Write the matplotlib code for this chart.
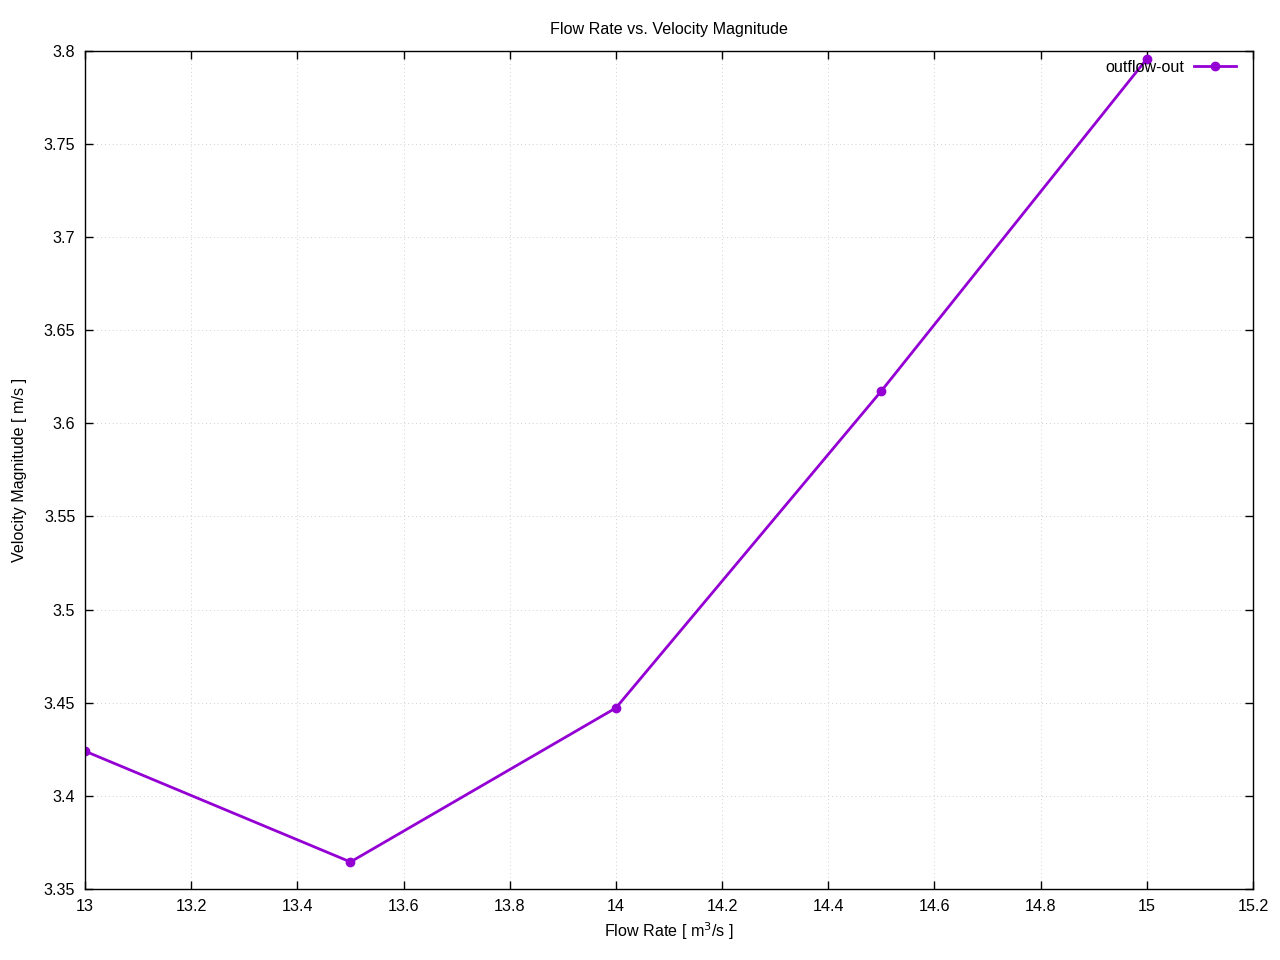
import matplotlib
matplotlib.use('Agg')
import matplotlib.pyplot as plt

plt.rcParams['font.family'] = ['Liberation Sans', 'DejaVu Sans']

# data
flow_rate = [13.0, 13.5, 14.0, 14.5, 15.0]
velocity = [3.424, 3.3645, 3.4472, 3.6174, 3.7957]
x_ticks = [13, 13.2, 13.4, 13.6, 13.8, 14, 14.2, 14.4, 14.6, 14.8, 15, 15.2]
x_labels = ['13', '13.2', '13.4', '13.6', '13.8', '14', '14.2', '14.4', '14.6', '14.8', '15', '15.2']
y_ticks = [3.35, 3.4, 3.45, 3.5, 3.55, 3.6, 3.65, 3.7, 3.75, 3.8]
y_labels = ['3.35', '3.4', '3.45', '3.5', '3.55', '3.6', '3.65', '3.7', '3.75', '3.8']

fs = 11.6

fig = plt.figure(figsize=(12.8, 9.6), dpi=100)
ax = fig.add_axes([0.0664, 0.074, 0.9125, 0.873])

ax.plot(flow_rate, velocity, color='#9400D3', linewidth=2.0, marker='o',
        markersize=6, label='outflow-out')

ax.set_xlim(13, 15.2)
ax.set_ylim(3.35, 3.8)
ax.set_xticks(x_ticks)
ax.set_xticklabels(x_labels)
ax.set_yticks(y_ticks)
ax.set_yticklabels(y_labels)
ax.tick_params(direction='in', top=True, right=True, length=6, width=1,
               labelsize=fs, pad=7)
for s in ax.spines.values():
    s.set_linewidth(1.0)

ax.grid(True, color='#d0d0d0', linestyle=(0, (1, 3)), linewidth=0.7)

ax.set_title('Flow Rate vs. Velocity Magnitude', fontsize=fs, pad=12)
ax.set_xlabel('Flow Rate [ m$^3$/s ]', fontsize=fs, labelpad=5)
ax.set_ylabel('Velocity Magnitude [ m/s ]', fontsize=fs, labelpad=12)

ax.legend(loc='upper right', bbox_to_anchor=(0.991, 0.997), frameon=False,
          markerfirst=False, fontsize=fs, handlelength=2.6, handletextpad=0.6,
          borderaxespad=0)

fig.savefig('out.png', dpi=100)
